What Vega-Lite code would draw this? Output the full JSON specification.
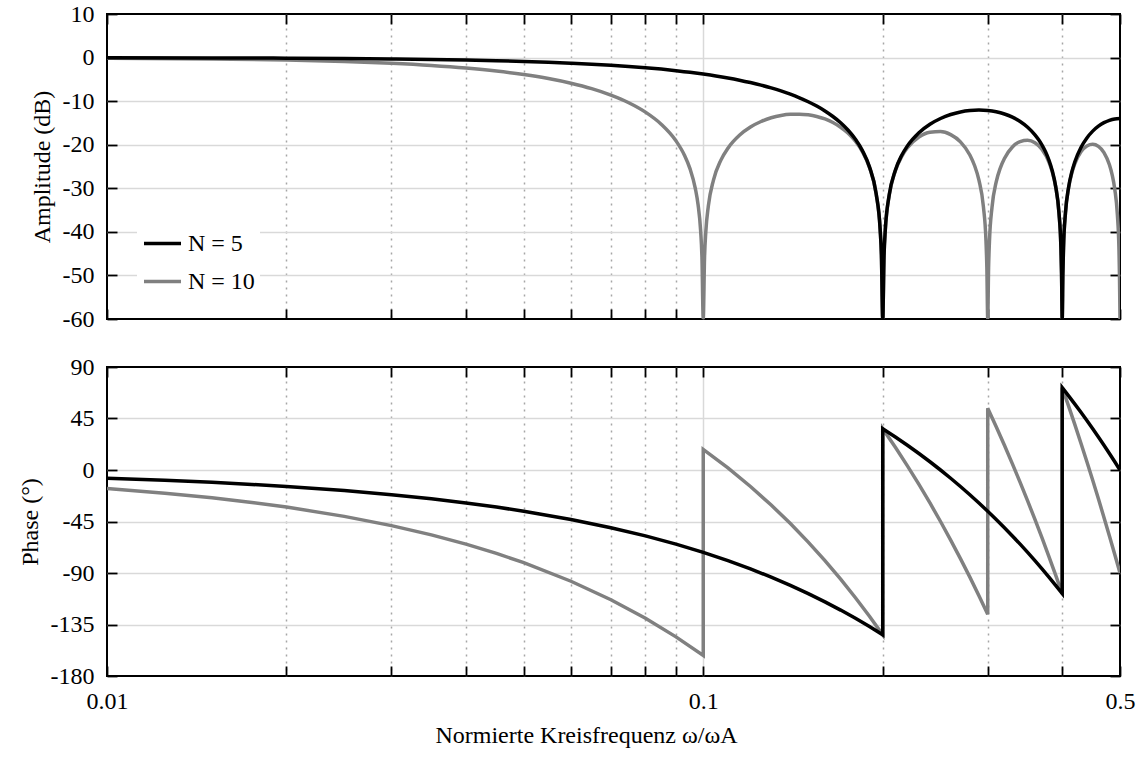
{
  "$schema": "https://vega.github.io/schema/vega-lite/v6.json",
  "background": "white",
  "padding": {"left": 17, "top": 1, "right": 0, "bottom": 0},
  "config": {
    "font": "Liberation Serif, Times New Roman, Tinos, serif",
    "view": {"stroke": "#000000", "strokeWidth": 2},
    "axis": {
      "labelFont": "Liberation Serif, Times New Roman, Tinos, serif", "labelFontSize": 24, "labelColor": "#000000",
      "titleFont": "Liberation Serif, Times New Roman, Tinos, serif", "titleFontSize": 24, "titleFontWeight": "normal", "titleColor": "#000000",
      "tickColor": "#000000", "tickWidth": 1.8, "tickSize": 10,
      "domain": false, "gridColor": "#d9d9d9", "gridWidth": 1.5
    },
    "legend": {
      "labelFont": "Liberation Serif, Times New Roman, Tinos, serif", "labelFontSize": 24, "labelColor": "#000000",
      "symbolType": "stroke", "symbolSize": 1369, "symbolStrokeWidth": 3.5,
      "labelOffset": 5, "rowPadding": 5, "padding": 5, "fillColor": "#ffffff"
    }
  },
  "datasets": {
    "amp5": [
      {"f":0.01,"N":"N = 5","dB":-0.03},{"f":0.015,"N":"N = 5","dB":-0.08},{"f":0.02,"N":"N = 5","dB":-0.14},
      {"f":0.025,"N":"N = 5","dB":-0.22},{"f":0.03,"N":"N = 5","dB":-0.31},{"f":0.035,"N":"N = 5","dB":-0.42},
      {"f":0.04,"N":"N = 5","dB":-0.56},{"f":0.045,"N":"N = 5","dB":-0.71},{"f":0.05,"N":"N = 5","dB":-0.88},
      {"f":0.055,"N":"N = 5","dB":-1.07},{"f":0.06,"N":"N = 5","dB":-1.28},{"f":0.065,"N":"N = 5","dB":-1.51},
      {"f":0.07,"N":"N = 5","dB":-1.76},{"f":0.075,"N":"N = 5","dB":-2.03},{"f":0.08,"N":"N = 5","dB":-2.33},
      {"f":0.085,"N":"N = 5","dB":-2.65},{"f":0.09,"N":"N = 5","dB":-3.0},{"f":0.095,"N":"N = 5","dB":-3.37},
      {"f":0.1,"N":"N = 5","dB":-3.78},{"f":0.105,"N":"N = 5","dB":-4.21},{"f":0.11,"N":"N = 5","dB":-4.68},
      {"f":0.115,"N":"N = 5","dB":-5.19},{"f":0.12,"N":"N = 5","dB":-5.74},{"f":0.125,"N":"N = 5","dB":-6.32},
      {"f":0.13,"N":"N = 5","dB":-6.96},{"f":0.135,"N":"N = 5","dB":-7.65},{"f":0.14,"N":"N = 5","dB":-8.4},
      {"f":0.145,"N":"N = 5","dB":-9.23},{"f":0.15,"N":"N = 5","dB":-10.13},{"f":0.155,"N":"N = 5","dB":-11.13},
      {"f":0.16,"N":"N = 5","dB":-12.25},{"f":0.165,"N":"N = 5","dB":-13.52},{"f":0.17,"N":"N = 5","dB":-14.97},
      {"f":0.175,"N":"N = 5","dB":-16.68},{"f":0.18,"N":"N = 5","dB":-18.76},{"f":0.185,"N":"N = 5","dB":-21.41},
      {"f":0.19,"N":"N = 5","dB":-25.09},{"f":0.195,"N":"N = 5","dB":-31.28},{"f":0.198,"N":"N = 5","dB":-39.35},
      {"f":0.199,"N":"N = 5","dB":-45.4},{"f":0.2,"N":"N = 5","dB":-60},{"f":0.201,"N":"N = 5","dB":-45.48},
      {"f":0.202,"N":"N = 5","dB":-39.5},{"f":0.205,"N":"N = 5","dB":-31.66},{"f":0.21,"N":"N = 5","dB":-25.84},
      {"f":0.215,"N":"N = 5","dB":-22.54},{"f":0.22,"N":"N = 5","dB":-20.27},{"f":0.23,"N":"N = 5","dB":-17.25},
      {"f":0.24,"N":"N = 5","dB":-15.3},{"f":0.25,"N":"N = 5","dB":-13.98},{"f":0.26,"N":"N = 5","dB":-13.07},
      {"f":0.27,"N":"N = 5","dB":-12.48},{"f":0.28,"N":"N = 5","dB":-12.15},{"f":0.29,"N":"N = 5","dB":-12.04},
      {"f":0.3,"N":"N = 5","dB":-12.14},{"f":0.31,"N":"N = 5","dB":-12.44},{"f":0.32,"N":"N = 5","dB":-12.95},
      {"f":0.33,"N":"N = 5","dB":-13.68},{"f":0.34,"N":"N = 5","dB":-14.67},{"f":0.35,"N":"N = 5","dB":-15.99},
      {"f":0.36,"N":"N = 5","dB":-17.73},{"f":0.365,"N":"N = 5","dB":-18.81},{"f":0.37,"N":"N = 5","dB":-20.09},
      {"f":0.375,"N":"N = 5","dB":-21.63},{"f":0.38,"N":"N = 5","dB":-23.55},{"f":0.385,"N":"N = 5","dB":-26.04},
      {"f":0.39,"N":"N = 5","dB":-29.56},{"f":0.395,"N":"N = 5","dB":-35.61},{"f":0.398,"N":"N = 5","dB":-43.58},
      {"f":0.399,"N":"N = 5","dB":-49.61},{"f":0.4,"N":"N = 5","dB":-60},{"f":0.401,"N":"N = 5","dB":-49.63},
      {"f":0.402,"N":"N = 5","dB":-43.62},{"f":0.405,"N":"N = 5","dB":-35.69},{"f":0.41,"N":"N = 5","dB":-29.74},
      {"f":0.415,"N":"N = 5","dB":-26.3},{"f":0.42,"N":"N = 5","dB":-23.9},{"f":0.43,"N":"N = 5","dB":-20.63},
      {"f":0.44,"N":"N = 5","dB":-18.44},{"f":0.45,"N":"N = 5","dB":-16.88},{"f":0.46,"N":"N = 5","dB":-15.75},
      {"f":0.47,"N":"N = 5","dB":-14.94},{"f":0.48,"N":"N = 5","dB":-14.4},{"f":0.49,"N":"N = 5","dB":-14.08},
      {"f":0.5,"N":"N = 5","dB":-13.98}
    ],
    "amp10": [
      {"f":0.01,"N":"N = 10","dB":-0.14},{"f":0.015,"N":"N = 10","dB":-0.32},{"f":0.02,"N":"N = 10","dB":-0.57},
      {"f":0.025,"N":"N = 10","dB":-0.9},{"f":0.03,"N":"N = 10","dB":-1.31},{"f":0.035,"N":"N = 10","dB":-1.81},
      {"f":0.04,"N":"N = 10","dB":-2.4},{"f":0.045,"N":"N = 10","dB":-3.09},{"f":0.05,"N":"N = 10","dB":-3.89},
      {"f":0.055,"N":"N = 10","dB":-4.81},{"f":0.06,"N":"N = 10","dB":-5.89},{"f":0.065,"N":"N = 10","dB":-7.14},
      {"f":0.07,"N":"N = 10","dB":-8.62},{"f":0.075,"N":"N = 10","dB":-10.37},{"f":0.08,"N":"N = 10","dB":-12.53},
      {"f":0.085,"N":"N = 10","dB":-15.29},{"f":0.09,"N":"N = 10","dB":-19.11},{"f":0.093,"N":"N = 10","dB":-22.41},
      {"f":0.095,"N":"N = 10","dB":-25.48},{"f":0.097,"N":"N = 10","dB":-30.07},{"f":0.098,"N":"N = 10","dB":-33.67},
      {"f":0.099,"N":"N = 10","dB":-39.77},{"f":0.0995,"N":"N = 10","dB":-45.84},{"f":0.1,"N":"N = 10","dB":-60},
      {"f":0.1005,"N":"N = 10","dB":-45.92},{"f":0.101,"N":"N = 10","dB":-39.94},{"f":0.102,"N":"N = 10","dB":-34.01},
      {"f":0.104,"N":"N = 10","dB":-28.17},{"f":0.107,"N":"N = 10","dB":-23.59},{"f":0.11,"N":"N = 10","dB":-20.8},
      {"f":0.115,"N":"N = 10","dB":-17.83},{"f":0.12,"N":"N = 10","dB":-15.94},{"f":0.125,"N":"N = 10","dB":-14.67},
      {"f":0.13,"N":"N = 10","dB":-13.82},{"f":0.135,"N":"N = 10","dB":-13.29},{"f":0.14,"N":"N = 10","dB":-13.02},
      {"f":0.145,"N":"N = 10","dB":-12.98},{"f":0.15,"N":"N = 10","dB":-13.14},{"f":0.155,"N":"N = 10","dB":-13.51},
      {"f":0.16,"N":"N = 10","dB":-14.09},{"f":0.165,"N":"N = 10","dB":-14.9},{"f":0.17,"N":"N = 10","dB":-15.98},
      {"f":0.175,"N":"N = 10","dB":-17.37},{"f":0.18,"N":"N = 10","dB":-19.2},{"f":0.185,"N":"N = 10","dB":-21.65},
      {"f":0.19,"N":"N = 10","dB":-25.2},{"f":0.195,"N":"N = 10","dB":-31.31},{"f":0.198,"N":"N = 10","dB":-39.35},
      {"f":0.199,"N":"N = 10","dB":-45.4},{"f":0.2,"N":"N = 10","dB":-60},{"f":0.201,"N":"N = 10","dB":-45.48},
      {"f":0.202,"N":"N = 10","dB":-39.5},{"f":0.204,"N":"N = 10","dB":-33.57},{"f":0.207,"N":"N = 10","dB":-28.87},
      {"f":0.21,"N":"N = 10","dB":-25.95},{"f":0.215,"N":"N = 10","dB":-22.78},{"f":0.22,"N":"N = 10","dB":-20.7},
      {"f":0.23,"N":"N = 10","dB":-18.25},{"f":0.24,"N":"N = 10","dB":-17.14},{"f":0.25,"N":"N = 10","dB":-16.99},
      {"f":0.26,"N":"N = 10","dB":-17.69},{"f":0.27,"N":"N = 10","dB":-19.34},{"f":0.28,"N":"N = 10","dB":-22.35},
      {"f":0.285,"N":"N = 10","dB":-24.71},{"f":0.29,"N":"N = 10","dB":-28.15},{"f":0.295,"N":"N = 10","dB":-34.17},
      {"f":0.298,"N":"N = 10","dB":-42.16},{"f":0.299,"N":"N = 10","dB":-48.2},{"f":0.3,"N":"N = 10","dB":-60},
      {"f":0.301,"N":"N = 10","dB":-48.24},{"f":0.302,"N":"N = 10","dB":-42.24},{"f":0.305,"N":"N = 10","dB":-34.37},
      {"f":0.31,"N":"N = 10","dB":-28.55},{"f":0.315,"N":"N = 10","dB":-25.3},{"f":0.32,"N":"N = 10","dB":-23.15},
      {"f":0.33,"N":"N = 10","dB":-20.54},{"f":0.34,"N":"N = 10","dB":-19.29},{"f":0.35,"N":"N = 10","dB":-19.0},
      {"f":0.36,"N":"N = 10","dB":-19.57},{"f":0.37,"N":"N = 10","dB":-21.1},{"f":0.38,"N":"N = 10","dB":-23.98},
      {"f":0.385,"N":"N = 10","dB":-26.28},{"f":0.39,"N":"N = 10","dB":-29.67},{"f":0.395,"N":"N = 10","dB":-35.63},
      {"f":0.398,"N":"N = 10","dB":-43.59},{"f":0.399,"N":"N = 10","dB":-49.61},{"f":0.4,"N":"N = 10","dB":-60},
      {"f":0.401,"N":"N = 10","dB":-49.63},{"f":0.402,"N":"N = 10","dB":-43.62},{"f":0.405,"N":"N = 10","dB":-35.72},
      {"f":0.41,"N":"N = 10","dB":-29.85},{"f":0.415,"N":"N = 10","dB":-26.55},{"f":0.42,"N":"N = 10","dB":-24.34},
      {"f":0.43,"N":"N = 10","dB":-21.63},{"f":0.44,"N":"N = 10","dB":-20.28},{"f":0.45,"N":"N = 10","dB":-19.89},
      {"f":0.46,"N":"N = 10","dB":-20.37},{"f":0.47,"N":"N = 10","dB":-21.8},{"f":0.48,"N":"N = 10","dB":-24.6},
      {"f":0.485,"N":"N = 10","dB":-26.85},{"f":0.49,"N":"N = 10","dB":-30.2},{"f":0.495,"N":"N = 10","dB":-36.11},
      {"f":0.498,"N":"N = 10","dB":-44.04},{"f":0.499,"N":"N = 10","dB":-50.06},{"f":0.5,"N":"N = 10","dB":-60}
    ],
    "ph5": [
      {"f":0.01,"N":"N = 5","deg":-7.2},{"f":0.0125,"N":"N = 5","deg":-9},{"f":0.015,"N":"N = 5","deg":-10.8},
      {"f":0.0175,"N":"N = 5","deg":-12.6},{"f":0.02,"N":"N = 5","deg":-14.4},{"f":0.025,"N":"N = 5","deg":-18},
      {"f":0.03,"N":"N = 5","deg":-21.6},{"f":0.035,"N":"N = 5","deg":-25.2},{"f":0.04,"N":"N = 5","deg":-28.8},
      {"f":0.045,"N":"N = 5","deg":-32.4},{"f":0.05,"N":"N = 5","deg":-36},{"f":0.06,"N":"N = 5","deg":-43.2},
      {"f":0.07,"N":"N = 5","deg":-50.4},{"f":0.08,"N":"N = 5","deg":-57.6},{"f":0.09,"N":"N = 5","deg":-64.8},
      {"f":0.1,"N":"N = 5","deg":-72},{"f":0.11,"N":"N = 5","deg":-79.2},{"f":0.12,"N":"N = 5","deg":-86.4},
      {"f":0.13,"N":"N = 5","deg":-93.6},{"f":0.14,"N":"N = 5","deg":-100.8},{"f":0.15,"N":"N = 5","deg":-108},
      {"f":0.16,"N":"N = 5","deg":-115.2},{"f":0.17,"N":"N = 5","deg":-122.4},{"f":0.18,"N":"N = 5","deg":-129.6},
      {"f":0.19,"N":"N = 5","deg":-136.8},{"f":0.2,"N":"N = 5","deg":-144},{"f":0.2,"N":"N = 5","deg":36},
      {"f":0.21,"N":"N = 5","deg":28.8},{"f":0.22,"N":"N = 5","deg":21.6},{"f":0.23,"N":"N = 5","deg":14.4},
      {"f":0.24,"N":"N = 5","deg":7.2},{"f":0.25,"N":"N = 5","deg":0},{"f":0.26,"N":"N = 5","deg":-7.2},
      {"f":0.27,"N":"N = 5","deg":-14.4},{"f":0.28,"N":"N = 5","deg":-21.6},{"f":0.29,"N":"N = 5","deg":-28.8},
      {"f":0.3,"N":"N = 5","deg":-36},{"f":0.31,"N":"N = 5","deg":-43.2},{"f":0.32,"N":"N = 5","deg":-50.4},
      {"f":0.33,"N":"N = 5","deg":-57.6},{"f":0.34,"N":"N = 5","deg":-64.8},{"f":0.35,"N":"N = 5","deg":-72},
      {"f":0.36,"N":"N = 5","deg":-79.2},{"f":0.37,"N":"N = 5","deg":-86.4},{"f":0.38,"N":"N = 5","deg":-93.6},
      {"f":0.39,"N":"N = 5","deg":-100.8},{"f":0.4,"N":"N = 5","deg":-108},{"f":0.4,"N":"N = 5","deg":72},
      {"f":0.41,"N":"N = 5","deg":64.8},{"f":0.42,"N":"N = 5","deg":57.6},{"f":0.43,"N":"N = 5","deg":50.4},
      {"f":0.44,"N":"N = 5","deg":43.2},{"f":0.45,"N":"N = 5","deg":36},{"f":0.46,"N":"N = 5","deg":28.8},
      {"f":0.47,"N":"N = 5","deg":21.6},{"f":0.48,"N":"N = 5","deg":14.4},{"f":0.49,"N":"N = 5","deg":7.2},
      {"f":0.5,"N":"N = 5","deg":0}
    ],
    "ph10": [
      {"f":0.01,"N":"N = 10","deg":-16.2},{"f":0.0125,"N":"N = 10","deg":-20.25},{"f":0.015,"N":"N = 10","deg":-24.3},
      {"f":0.0175,"N":"N = 10","deg":-28.35},{"f":0.02,"N":"N = 10","deg":-32.4},{"f":0.025,"N":"N = 10","deg":-40.5},
      {"f":0.03,"N":"N = 10","deg":-48.6},{"f":0.035,"N":"N = 10","deg":-56.7},{"f":0.04,"N":"N = 10","deg":-64.8},
      {"f":0.045,"N":"N = 10","deg":-72.9},{"f":0.05,"N":"N = 10","deg":-81},{"f":0.06,"N":"N = 10","deg":-97.2},
      {"f":0.07,"N":"N = 10","deg":-113.4},{"f":0.08,"N":"N = 10","deg":-129.6},{"f":0.09,"N":"N = 10","deg":-145.8},
      {"f":0.1,"N":"N = 10","deg":-162},{"f":0.1,"N":"N = 10","deg":18},{"f":0.11,"N":"N = 10","deg":1.8},
      {"f":0.12,"N":"N = 10","deg":-14.4},{"f":0.13,"N":"N = 10","deg":-30.6},{"f":0.14,"N":"N = 10","deg":-46.8},
      {"f":0.15,"N":"N = 10","deg":-63},{"f":0.16,"N":"N = 10","deg":-79.2},{"f":0.17,"N":"N = 10","deg":-95.4},
      {"f":0.18,"N":"N = 10","deg":-111.6},{"f":0.19,"N":"N = 10","deg":-127.8},{"f":0.2,"N":"N = 10","deg":-144},
      {"f":0.2,"N":"N = 10","deg":36},{"f":0.21,"N":"N = 10","deg":19.8},{"f":0.22,"N":"N = 10","deg":3.6},
      {"f":0.23,"N":"N = 10","deg":-12.6},{"f":0.24,"N":"N = 10","deg":-28.8},{"f":0.25,"N":"N = 10","deg":-45},
      {"f":0.26,"N":"N = 10","deg":-61.2},{"f":0.27,"N":"N = 10","deg":-77.4},{"f":0.28,"N":"N = 10","deg":-93.6},
      {"f":0.29,"N":"N = 10","deg":-109.8},{"f":0.3,"N":"N = 10","deg":-126},{"f":0.3,"N":"N = 10","deg":54},
      {"f":0.31,"N":"N = 10","deg":37.8},{"f":0.32,"N":"N = 10","deg":21.6},{"f":0.33,"N":"N = 10","deg":5.4},
      {"f":0.34,"N":"N = 10","deg":-10.8},{"f":0.35,"N":"N = 10","deg":-27},{"f":0.36,"N":"N = 10","deg":-43.2},
      {"f":0.37,"N":"N = 10","deg":-59.4},{"f":0.38,"N":"N = 10","deg":-75.6},{"f":0.39,"N":"N = 10","deg":-91.8},
      {"f":0.4,"N":"N = 10","deg":-108},{"f":0.4,"N":"N = 10","deg":72},{"f":0.41,"N":"N = 10","deg":55.8},
      {"f":0.42,"N":"N = 10","deg":39.6},{"f":0.43,"N":"N = 10","deg":23.4},{"f":0.44,"N":"N = 10","deg":7.2},
      {"f":0.45,"N":"N = 10","deg":-9},{"f":0.46,"N":"N = 10","deg":-25.2},{"f":0.47,"N":"N = 10","deg":-41.4},
      {"f":0.48,"N":"N = 10","deg":-57.6},{"f":0.49,"N":"N = 10","deg":-73.8},{"f":0.5,"N":"N = 10","deg":-90}
    ]
  },
  "spacing": 48,
  "bounds": "flush",
  "resolve": {"scale": {"color": "independent"}, "legend": {"color": "independent"}},
  "vconcat": [
    {
      "width": 1013,
      "height": 305,
      "resolve": {"axis": {"x": "independent", "y": "independent"}},
      "layer": [
        {
          "data": {"name": "amp10"},
          "mark": {"type": "line", "strokeWidth": 3.5, "interpolate": "monotone", "clip": true},
          "encoding": {
            "x": {
              "field": "f", "type": "quantitative",
              "scale": {"type": "log", "domain": [0.01, 0.5], "nice": false},
              "axis": {
                "orient": "bottom", "title": null, "labels": false, "ticks": false,
                "values": [0.01, 0.02, 0.03, 0.04, 0.05, 0.06, 0.07, 0.08, 0.09, 0.1, 0.2, 0.3, 0.4, 0.5],
                "grid": true,
                "gridDash": {"condition": {"test": "datum.value == 0.1", "value": []}, "value": [2, 5]},
                "gridColor": {"condition": {"test": "datum.value == 0.1", "value": "#d9d9d9"}, "value": "#a6a6a6"},
                "gridOpacity": {"condition": {"test": "datum.value <= 0.01 || datum.value >= 0.5", "value": 0}, "value": 1}
              }
            },
            "y": {
              "field": "dB", "type": "quantitative",
              "scale": {"domain": [-60, 10], "nice": false, "zero": false},
              "axis": {
                "orient": "left", "title": "Amplitude (dB)", "ticks": false,
                "values": [-60, -50, -40, -30, -20, -10, 0, 10],
                "labelExpr": "datum.value + ''",
                "labelPadding": 13, "titlePadding": 8,
                "grid": true,
                "gridOpacity": {"condition": {"test": "datum.value <= -60 || datum.value >= 10", "value": 0}, "value": 1}
              }
            },
            "color": {
              "field": "N", "type": "nominal",
              "scale": {"domain": ["N = 5", "N = 10"], "range": ["#000000", "#808080"]},
              "legend": {"orient": "none", "legendX": 30, "legendY": 204, "title": null}
            }
          }
        },
        {
          "data": {"name": "amp5"},
          "mark": {"type": "line", "strokeWidth": 3.5, "interpolate": "monotone", "clip": true},
          "encoding": {
            "x": {
              "field": "f", "type": "quantitative",
              "scale": {"type": "log", "domain": [0.01, 0.5], "nice": false},
              "axis": {
                "orient": "top", "title": null, "labels": false, "grid": false, "offset": -10,
                "values": [0.01, 0.02, 0.03, 0.04, 0.05, 0.06, 0.07, 0.08, 0.09, 0.1, 0.2, 0.3, 0.4, 0.5]
              }
            },
            "y": {
              "field": "dB", "type": "quantitative",
              "scale": {"domain": [-60, 10], "nice": false, "zero": false},
              "axis": {
                "orient": "right", "title": null, "labels": false, "grid": false, "offset": -10,
                "values": [-60, -50, -40, -30, -20, -10, 0, 10]
              }
            },
            "color": {
              "field": "N", "type": "nominal",
              "scale": {"domain": ["N = 5", "N = 10"], "range": ["#000000", "#808080"]}
            }
          }
        },
        {
          "data": {"name": "amp5"},
          "mark": {"type": "line", "strokeOpacity": 0, "clip": true},
          "encoding": {
            "x": {
              "field": "f", "type": "quantitative",
              "scale": {"type": "log", "domain": [0.01, 0.5], "nice": false},
              "axis": {
                "orient": "bottom", "title": null, "labels": false, "grid": false, "offset": -10,
                "values": [0.01, 0.02, 0.03, 0.04, 0.05, 0.06, 0.07, 0.08, 0.09, 0.1, 0.2, 0.3, 0.4, 0.5]
              }
            },
            "y": {
              "field": "dB", "type": "quantitative",
              "scale": {"domain": [-60, 10], "nice": false, "zero": false},
              "axis": {
                "orient": "left", "title": null, "labels": false, "grid": false, "offset": -10,
                "values": [-60, -50, -40, -30, -20, -10, 0, 10]
              }
            }
          }
        }
      ]
    },
    {
      "width": 1013,
      "height": 309,
      "resolve": {"axis": {"x": "independent", "y": "independent"}},
      "layer": [
        {
          "data": {"name": "ph10"},
          "mark": {"type": "line", "strokeWidth": 3.5, "clip": true},
          "encoding": {
            "x": {
              "field": "f", "type": "quantitative",
              "scale": {"type": "log", "domain": [0.01, 0.5], "nice": false},
              "axis": {
                "orient": "bottom", "title": "Normierte Kreisfrequenz  ω/ωA", "ticks": false,
                "values": [0.01, 0.02, 0.03, 0.04, 0.05, 0.06, 0.07, 0.08, 0.09, 0.1, 0.2, 0.3, 0.4, 0.5],
                "labelExpr": "datum.value == 0.01 ? '0.01' : datum.value == 0.1 ? '0.1' : datum.value == 0.5 ? '0.5' : ''",
                "labelFlush": false, "labelPadding": 13, "titlePadding": 10, "titleX": 479,
                "grid": true,
                "gridDash": {"condition": {"test": "datum.value == 0.1", "value": []}, "value": [2, 5]},
                "gridColor": {"condition": {"test": "datum.value == 0.1", "value": "#d9d9d9"}, "value": "#a6a6a6"},
                "gridOpacity": {"condition": {"test": "datum.value <= 0.01 || datum.value >= 0.5", "value": 0}, "value": 1}
              }
            },
            "y": {
              "field": "deg", "type": "quantitative",
              "scale": {"domain": [-180, 90], "nice": false, "zero": false},
              "axis": {
                "orient": "left", "title": "Phase (°)", "ticks": false,
                "values": [-180, -135, -90, -45, 0, 45, 90],
                "labelExpr": "datum.value + ''",
                "labelPadding": 13, "titlePadding": 8,
                "grid": true,
                "gridOpacity": {"condition": {"test": "datum.value <= -180 || datum.value >= 90", "value": 0}, "value": 1}
              }
            },
            "color": {
              "field": "N", "type": "nominal",
              "scale": {"domain": ["N = 5", "N = 10"], "range": ["#000000", "#808080"]},
              "legend": null
            }
          }
        },
        {
          "data": {"name": "ph5"},
          "mark": {"type": "line", "strokeWidth": 3.5, "clip": true},
          "encoding": {
            "x": {
              "field": "f", "type": "quantitative",
              "scale": {"type": "log", "domain": [0.01, 0.5], "nice": false},
              "axis": {
                "orient": "top", "title": null, "labels": false, "grid": false, "offset": -10,
                "values": [0.01, 0.02, 0.03, 0.04, 0.05, 0.06, 0.07, 0.08, 0.09, 0.1, 0.2, 0.3, 0.4, 0.5]
              }
            },
            "y": {
              "field": "deg", "type": "quantitative",
              "scale": {"domain": [-180, 90], "nice": false, "zero": false},
              "axis": {
                "orient": "right", "title": null, "labels": false, "grid": false, "offset": -10,
                "values": [-180, -135, -90, -45, 0, 45, 90]
              }
            },
            "color": {
              "field": "N", "type": "nominal",
              "scale": {"domain": ["N = 5", "N = 10"], "range": ["#000000", "#808080"]},
              "legend": null
            }
          }
        },
        {
          "data": {"name": "ph5"},
          "mark": {"type": "line", "strokeOpacity": 0, "clip": true},
          "encoding": {
            "x": {
              "field": "f", "type": "quantitative",
              "scale": {"type": "log", "domain": [0.01, 0.5], "nice": false},
              "axis": {
                "orient": "bottom", "title": null, "labels": false, "grid": false, "offset": -10,
                "values": [0.01, 0.02, 0.03, 0.04, 0.05, 0.06, 0.07, 0.08, 0.09, 0.1, 0.2, 0.3, 0.4, 0.5]
              }
            },
            "y": {
              "field": "deg", "type": "quantitative",
              "scale": {"domain": [-180, 90], "nice": false, "zero": false},
              "axis": {
                "orient": "left", "title": null, "labels": false, "grid": false, "offset": -10,
                "values": [-180, -135, -90, -45, 0, 45, 90]
              }
            }
          }
        }
      ]
    }
  ]
}
